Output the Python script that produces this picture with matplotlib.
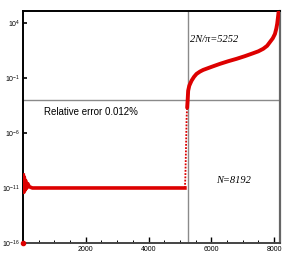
import matplotlib
matplotlib.use("Agg")
import matplotlib.pyplot as plt
import numpy as np

# relative error vs index
n_flat = [10, 25, 40, 60, 80, 110, 150, 200, 300, 500, 1000, 2000, 3000, 4000, 5000, 5160]
err_flat = [1.5e-10, 4e-12, 1e-10, 6e-12, 5e-11, 9e-12, 2.5e-11, 1.3e-11, 1e-11, 1e-11, 1e-11,
            1e-11, 1e-11, 1e-11, 1e-11, 1e-11]
n_jump = [5160, 5175, 5190, 5205, 5215, 5225, 5232]
err_jump = [1e-11, 1e-10, 1e-8, 1e-6, 3e-5, 1e-4, 2e-4]
n_tail = [5232, 5250, 5264, 5300, 5372, 5450, 5531, 5640, 5742, 6000, 6275, 6540, 6808, 7070,
          7337, 7500, 7656, 7780, 7870, 7960, 8030, 8075, 8103, 8135, 8160, 8192]
log_tail = [-3.7, -2.9, -2.16, -1.7, -1.25, -0.9, -0.63, -0.42, -0.27, 0.0, 0.28, 0.52, 0.74,
            0.98, 1.25, 1.42, 1.65, 1.92, 2.26, 2.6, 3.0, 3.5, 3.94, 4.7, 5.3, 6.0]
n_zero = [0]
err_zero = [1e-16]

N = 8192
n_crit = 5252
rel_level = 1.05e-3

fig = plt.figure(figsize=(2.92, 2.60), dpi=100)
ax = fig.add_axes([0.0788, 0.0654, 0.8802, 0.8935])

ax.axvline(n_crit, color="#8a8a8a", lw=1.0, zorder=1)
ax.axhline(rel_level, color="#8a8a8a", lw=1.0, zorder=1)

red = "#dd0000"
ax.plot(n_flat, err_flat, color=red, lw=2.6, zorder=3, solid_joinstyle="round")
ax.plot(n_jump, err_jump, color=red, lw=1.3, ls=(0, (1, 0.8)), zorder=3)
ax.plot(n_tail, 10.0 ** np.array(log_tail), color=red, lw=2.8, zorder=3,
        solid_joinstyle="round", solid_capstyle="round")
ax.plot(n_zero, err_zero, "o", ms=3, color=red, zorder=4, clip_on=False)

ax.set_yscale("log")
ax.set_xlim(0, 8192)
ax.set_ylim(1e-16, 1.3e5)
ax.set_yticks([1e-16, 1e-11, 1e-6, 1e-1, 1e4])
ax.yaxis.set_minor_locator(matplotlib.ticker.NullLocator())
ax.set_xticks([2000, 4000, 6000, 8000])
ax.set_xticks(np.arange(500, 8192, 500), minor=True)

ax.tick_params(axis="both", which="both", direction="in", labelsize=5, pad=2,
               top=False, right=False, colors="black")
ax.tick_params(axis="y", which="major", length=3, width=1.2)
ax.tick_params(axis="x", which="major", length=4, width=1.0)
ax.tick_params(axis="x", which="minor", length=2, width=0.7)
for lab in ax.get_xticklabels() + ax.get_yticklabels():
    lab.set_family("Liberation Sans")

ax.spines["left"].set_linewidth(1.4)
ax.spines["top"].set_linewidth(1.4)
ax.spines["bottom"].set_linewidth(1.4)
ax.spines["bottom"].set_color("#444444")
ax.spines["right"].set_linewidth(1.6)
ax.spines["right"].set_color("#666666")

ax.text(0.648, 0.878, "2N/π=5252", transform=ax.transAxes, family="Liberation Serif",
        style="italic", fontsize=7.5, ha="left", va="center")
ax.text(0.08, 0.565, "Relative error 0.012%", transform=ax.transAxes, family="Liberation Sans",
        fontsize=7, ha="left", va="center")
ax.text(0.75, 0.27, "N=8192", transform=ax.transAxes, family="Liberation Serif",
        style="italic", fontsize=7.5, ha="left", va="center")

fig.savefig("out.png", dpi=100)
